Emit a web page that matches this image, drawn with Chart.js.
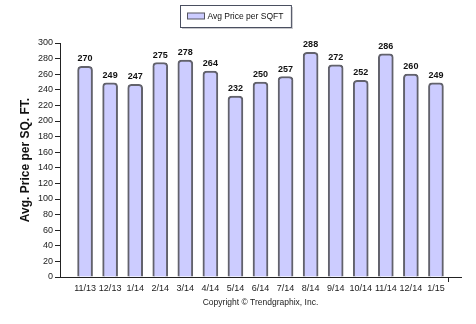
<!DOCTYPE html>
<html>
<head>
<meta charset="utf-8">
<script src="https://cdn.jsdelivr.net/npm/chart.js@4"></script>
<style>
  html, body { margin: 0; padding: 0; background: #fff; }
  #wrap { width: 476px; height: 324px; position: relative; }
</style>
</head>
<body>
<div id="wrap"><canvas id="c"></canvas></div>
<script>
var months = ['11/13', '12/13', '1/14', '2/14', '3/14', '4/14', '5/14', '6/14', '7/14', '8/14', '9/14', '10/14', '11/14', '12/14', '1/15'];
var pricePerSqft = [270, 249, 247, 275, 278, 264, 232, 250, 257, 288, 272, 252, 286, 260, 249];
var seriesLabel = 'Avg Price per SQFT';
var yTitle = 'Avg. Price per SQ. FT.';
var footer = 'Copyright \u00A9 Trendgraphix, Inc.';

var barFill = '#ccccff';
var barEdge = '#62626c';
var axisColor = '#222';
var fontFam = '"Liberation Sans", Arial, sans-serif';

// box legend drawn above the plot
var boxLegend = {
  id: 'boxLegend',
  afterDraw: function(chart) {
    var ctx = chart.ctx;
    var label = chart.data.datasets[0].label;
    ctx.save();
    ctx.font = '8.5px ' + fontFam;
    var tw = ctx.measureText(label).width;
    var w = tw + 35, h = 22;
    var x = Math.round(235 - w / 2) + 0.5, y = 5.5;
    ctx.fillStyle = '#c8c8cc';
    ctx.fillRect(x + 1.5, y + 1.5, w, h);
    ctx.fillStyle = '#fff';
    ctx.fillRect(x, y, w, h);
    ctx.strokeStyle = '#4a4f60';
    ctx.lineWidth = 1;
    ctx.strokeRect(x, y, w, h);
    ctx.fillStyle = barFill;
    ctx.fillRect(x + 7, y + 7.5, 17, 6);
    ctx.strokeStyle = '#55555f';
    ctx.strokeRect(x + 7, y + 7.5, 17, 6);
    ctx.fillStyle = '#111';
    ctx.textBaseline = 'middle';
    ctx.fillText(label, x + 27, y + 11);
    ctx.restore();
  }
};

// value labels over each bar
var valueLabels = {
  id: 'valueLabels',
  afterDatasetsDraw: function(chart) {
    var ctx = chart.ctx;
    var meta = chart.getDatasetMeta(0);
    var vals = chart.data.datasets[0].data;
    ctx.save();
    ctx.font = 'bold 9px ' + fontFam;
    ctx.fillStyle = '#111';
    ctx.textAlign = 'center';
    ctx.textBaseline = 'alphabetic';
    meta.data.forEach(function(bar, i) {
      ctx.fillText(String(vals[i].y), bar.x, bar.y - 5);
    });
    ctx.restore();
  }
};

new Chart(document.getElementById('c').getContext('2d'), {
  type: 'bar',
  data: {
    datasets: [{
      label: seriesLabel,
      data: pricePerSqft.map(function(v, i) { return { x: i + 1, y: v }; }),
      backgroundColor: barFill,
      borderColor: barEdge,
      borderWidth: 2,
      borderSkipped: 'bottom',
      borderRadius: { topLeft: 4, topRight: 4 },
      barThickness: 15
    }]
  },
  options: {
    responsive: true, maintainAspectRatio: false, animation: false,
    layout: { padding: { top: 43, left: 14, right: 15, bottom: 0 } },
    plugins: { legend: { display: false }, tooltip: { enabled: false } },
    scales: {
      x: {
        type: 'linear', min: 0, max: 16, offset: false,
        afterFit: function(s) { s.height = 47; },
        afterBuildTicks: function(s) {
          var t = [];
          for (var i = 0; i <= 16; i++) t.push({ value: i });
          s.ticks = t;
        },
        ticks: {
          autoSkip: false, maxRotation: 0, padding: 1, color: '#222',
          font: { family: fontFam, size: 9 },
          callback: function(v) { return months[v - 1] || ''; }
        },
        grid: {
          drawOnChartArea: false, tickLength: 5,
          tickColor: function(c) { return (c.tick && (c.tick.value === 0 || c.tick.value === 16)) ? axisColor : 'rgba(0,0,0,0)'; }
        },
        border: { color: axisColor, width: 1 },
        title: { display: true, text: footer, color: '#222', font: { family: fontFam, size: 8.5 }, padding: { top: 0, bottom: 16 } }
      },
      y: {
        min: 0, max: 300,
        afterFit: function(s) { s.width = 46; },
        ticks: { stepSize: 20, padding: 2, color: '#222', font: { family: fontFam, size: 9 } },
        grid: { drawOnChartArea: false, tickLength: 5, tickColor: axisColor },
        border: { color: axisColor, width: 1 },
        title: { display: true, text: yTitle, color: '#111', font: { family: fontFam, size: 12, weight: 'bold' }, padding: { top: 4, bottom: 4 } }
      }
    }
  },
  plugins: [boxLegend, valueLabels]
});
</script>
</body>
</html>
